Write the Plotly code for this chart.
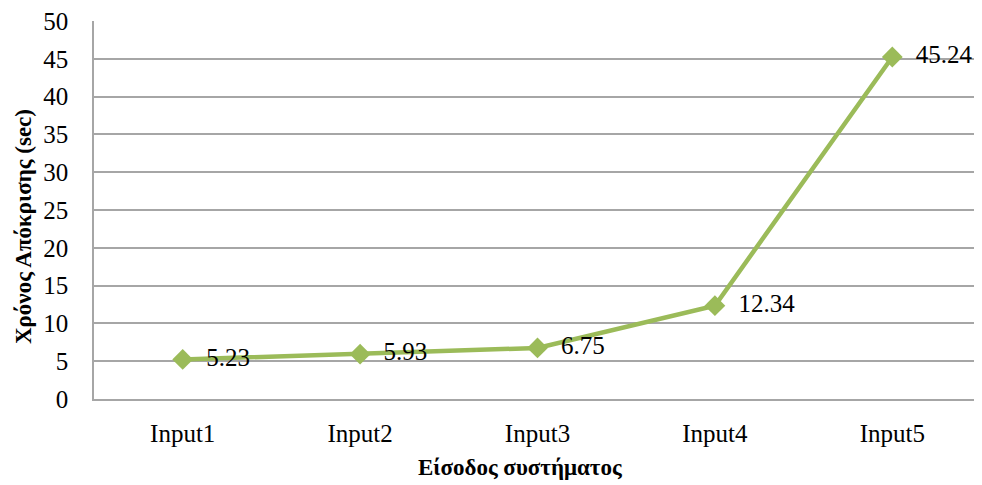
import plotly.graph_objects as go

inputs = ["Input1", "Input2", "Input3", "Input4", "Input5"]
response_time = [5.23, 5.93, 6.75, 12.34, 45.24]
labels = ["5.23", "5.93", "6.75", "12.34", "45.24"]

serif = "Liberation Serif, Times New Roman, serif"
green = "#9BBB59"
grid = "#A6A6A6"

# the page adds an 8px body margin, so the figure is a little smaller than the window
fig = go.Figure()
fig.add_trace(go.Scatter(
    x=inputs, y=response_time,
    mode="lines+markers+text",
    line=dict(color=green, width=4.5),
    marker=dict(symbol="diamond", size=16, color=green),
    text=labels, texttemplate="  %{text}", textposition="middle right",
    textfont=dict(family=serif, size=25, color="black"),
    cliponaxis=False,
    showlegend=False,
))

fig.update_layout(
    width=974, height=477,
    margin=dict(l=86, r=1, t=13, b=86),
    paper_bgcolor="white", plot_bgcolor="white",
    font=dict(family=serif, color="black"),
    annotations=[
        dict(text="<b>Χρόνος Απόκρισης (sec)</b>", textangle=-90,
             xref="paper", yref="paper", x=-0.08, y=0.455,
             xanchor="center", yanchor="middle", showarrow=False,
             font=dict(size=23)),
        dict(text="<b>Είσοδος συστήματος</b>",
             xref="paper", yref="paper", x=0.48, y=-0.18,
             xanchor="center", yanchor="middle", showarrow=False,
             font=dict(size=23)),
    ],
)
fig.update_xaxes(
    range=[-0.5, 4.5], automargin=False,
    showline=True, linecolor=grid, linewidth=1.5,
    showgrid=False, ticks="", ticklabelstandoff=11,
    tickfont=dict(size=25),
)
fig.update_yaxes(
    range=[0, 50], dtick=5, automargin=False,
    showline=True, linecolor=grid, linewidth=1.5,
    showgrid=True, gridcolor=grid, gridwidth=1.5,
    zeroline=False, ticks="", ticklabelstandoff=19,
    ticklabeloverflow="allow",
    tickfont=dict(size=25),
)

fig.write_html("out.html")
